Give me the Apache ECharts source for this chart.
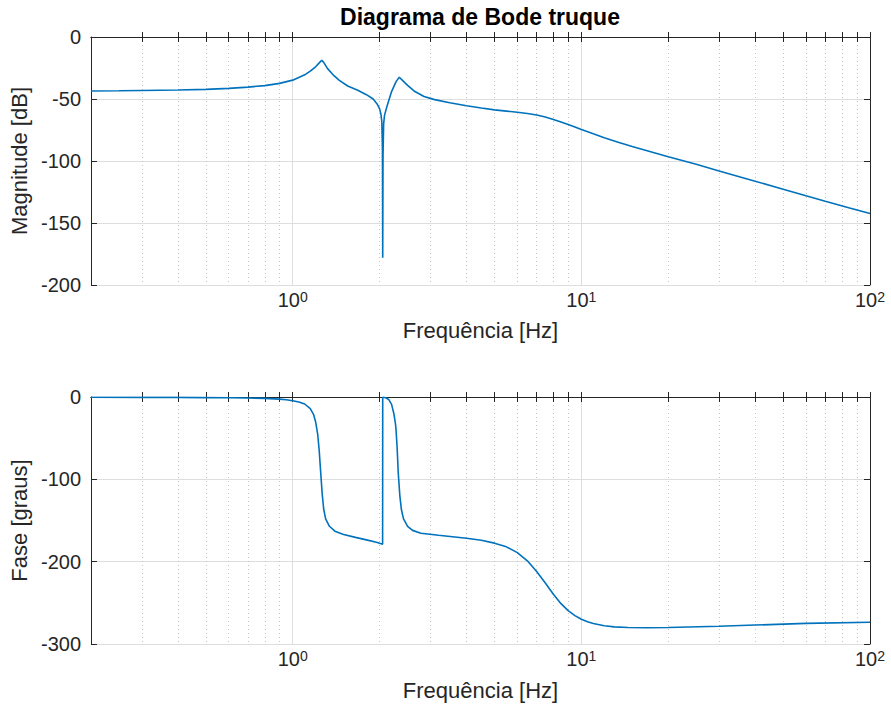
<!DOCTYPE html>
<html>
<head>
<meta charset="utf-8">
<title>Diagrama de Bode truque</title>
<script src="https://cdn.jsdelivr.net/npm/echarts@6/dist/echarts.min.js"></script>
<style>
  html, body { margin: 0; padding: 0; background: #fff; }
  #chart { width: 891px; height: 720px; }
</style>
</head>
<body>
<div id="chart"></div>
<script>
// frequencia [Hz] e magnitude [dB]
const freqMag = [0.2, 0.25, 0.3, 0.4, 0.5, 0.6, 0.7, 0.8, 0.9, 1.0, 1.1, 1.15, 1.2, 1.24, 1.26, 1.28, 1.32, 1.38, 1.45, 1.55, 1.68, 1.8, 1.9, 1.96, 2.0, 2.02, 2.035, 2.045, 2.05, 2.055, 2.065, 2.08, 2.12, 2.2, 2.28, 2.34, 2.4, 2.5, 2.65, 2.85, 3.1, 3.5, 4.0, 4.5, 5.0, 5.5, 6.0, 6.5, 7.0, 7.5, 8.0, 8.5, 9.0, 9.5, 10, 11, 12, 13.5, 15, 17.5, 20, 25, 30, 40, 50, 60, 70, 85, 100];
const magDb = [-43.5, -43.4, -43.2, -42.8, -42.2, -41.4, -40.4, -39.2, -37.4, -34.8, -30.5, -27.5, -24, -20.5, -18.8, -20.5, -25.5, -30.5, -35, -39.5, -43, -46.5, -50, -54, -58, -62, -68, -90, -178, -95, -70, -63, -56, -44, -36, -32.5, -35, -39, -44, -48, -50.5, -53, -55.5, -57.3, -58.8, -59.8, -60.7, -61.7, -62.9, -64.5, -66.5, -68.6, -70.6, -72.5, -74.5, -78.1, -81.2, -85, -88.3, -92.7, -96.5, -102.7, -108, -116.3, -122.8, -128.1, -132.5, -137.9, -142.3];

// frequencia [Hz] e fase [graus]
const freqPhase = [0.2, 0.3, 0.4, 0.5, 0.6, 0.7, 0.8, 0.9, 0.95, 1.0, 1.05, 1.1, 1.15, 1.18, 1.2, 1.22, 1.235, 1.25, 1.265, 1.28, 1.3, 1.34, 1.4, 1.5, 1.65, 1.8, 1.95, 2.048, 2.05, 2.1, 2.15, 2.2, 2.24, 2.27, 2.28, 2.3, 2.32, 2.35, 2.38, 2.42, 2.5, 2.6, 2.78, 3.2, 4.0, 4.5, 5.0, 5.5, 6.0, 6.5, 7.0, 7.5, 8.0, 8.5, 9.0, 9.5, 10, 10.5, 11, 12, 13, 14.5, 17, 20, 30, 40, 60, 100];
const phaseDeg = [-0.3, -0.4, -0.5, -0.7, -0.9, -1.2, -1.7, -2.6, -3.3, -4.5, -6, -8.5, -14, -21, -30, -45, -65, -92, -118, -136, -148, -157, -163, -167, -170.5, -173.5, -176.5, -178.8, -0.3, -1, -3, -9, -20, -33, -40, -62, -92, -120, -137, -148, -157, -162, -165.5, -168, -171.5, -174, -177.5, -182, -189, -199, -212, -226, -239.5, -251, -259.5, -265.5, -270, -273, -275.2, -277.8, -279.2, -280, -280.3, -280, -278.5, -277, -275, -273.5];

// eixos
const xRange = [0.2, 100];
const majorTicks = [1, 10, 100];
const minorTicks = [0.3, 0.4, 0.5, 0.6, 0.7, 0.8, 0.9, 2, 3, 4, 5, 6, 7, 8, 9, 20, 30, 40, 50, 60, 70, 80, 90];
const magRange = [-200, 0];
const magStep = 50;
const phaseRange = [-300, 0];
const phaseStep = 100;

const FONT = '"Liberation Sans", Arial, sans-serif';
const AXIS_COLOR = '#262626';
const LINE_COLOR = '#0072BD';

const chart = echarts.init(document.getElementById('chart'), null, { renderer: 'svg' });

const grids = [
  { left: 91, top: 37, width: 779, height: 248 },
  { left: 91, top: 397, width: 779, height: 247 }
];

function xAxesFor(g, nameGap) {
  const base = { type: 'log', logBase: 10, min: xRange[0], max: xRange[1], gridIndex: g };
  const allTicks = majorTicks.concat(minorTicks);
  const border = { show: true, lineStyle: { color: AXIS_COLOR, width: 1 } };
  return [
    Object.assign({}, base, {
      position: 'bottom',
      axisLine: border,
      axisTick: { show: true, inside: true, length: 5, customValues: allTicks, lineStyle: { color: AXIS_COLOR } },
      axisLabel: {
        show: true,
        margin: 5,
        customValues: majorTicks,
        formatter: function (v) {
          return '{b|10}{s|' + Math.round(Math.log10(v)) + '}';
        },
        rich: {
          b: { fontFamily: FONT, fontSize: 20, lineHeight: 20, color: AXIS_COLOR, padding: [14, 0, 0, 0], verticalAlign: 'bottom' },
          s: { fontFamily: FONT, fontSize: 14, lineHeight: 14, color: AXIS_COLOR, verticalAlign: 'top' }
        }
      },
      splitLine: { show: false },
      name: 'Frequência [Hz]',
      nameLocation: 'middle',
      nameGap: nameGap,
      nameTextStyle: { fontFamily: FONT, fontSize: 22, color: AXIS_COLOR }
    }),
    Object.assign({}, base, {
      position: 'top',
      axisLine: border,
      axisTick: { show: true, inside: true, length: 5, customValues: allTicks, lineStyle: { color: AXIS_COLOR } },
      axisLabel: { show: false },
      splitLine: { show: false }
    }),
    Object.assign({}, base, {
      position: 'bottom',
      axisLine: { show: false },
      axisTick: { show: false, customValues: majorTicks },
      axisLabel: { show: false },
      splitLine: { show: true, lineStyle: { color: '#dedede', width: 1 } }
    }),
    Object.assign({}, base, {
      position: 'bottom',
      axisLine: { show: false },
      axisTick: { show: false, customValues: minorTicks },
      axisLabel: { show: false },
      splitLine: { show: true, lineStyle: { color: '#c4c4c4', width: 1, type: [1, 3] } }
    })
  ];
}

function yAxesFor(g, range, step, name) {
  const base = { type: 'value', gridIndex: g, min: range[0], max: range[1], interval: step };
  const border = { show: true, lineStyle: { color: AXIS_COLOR, width: 1 } };
  return [
    Object.assign({}, base, {
      position: 'left',
      axisLine: border,
      axisTick: { show: true, inside: true, length: 6, lineStyle: { color: AXIS_COLOR } },
      axisLabel: { show: true, margin: 10, fontFamily: FONT, fontSize: 20, color: AXIS_COLOR },
      splitLine: { show: true, lineStyle: { color: '#dedede', width: 1 } },
      name: name,
      nameLocation: 'middle',
      nameGap: 56,
      nameTextStyle: { fontFamily: FONT, fontSize: 22, color: AXIS_COLOR }
    }),
    Object.assign({}, base, {
      position: 'right',
      axisLine: border,
      axisTick: { show: true, inside: true, length: 6, lineStyle: { color: AXIS_COLOR } },
      axisLabel: { show: false },
      splitLine: { show: false }
    })
  ];
}

const option = {
  animation: false,
  backgroundColor: '#fff',
  grid: grids,
  graphic: [{
    type: 'text',
    x: 480,
    y: 17,
    style: {
      text: 'Diagrama de Bode truque',
      font: 'bold 23px ' + FONT,
      fill: '#000',
      align: 'center',
      verticalAlign: 'middle',
      textAlign: 'center',
      textVerticalAlign: 'middle'
    }
  }],
  xAxis: xAxesFor(0, 34).concat(xAxesFor(1, 35)),
  yAxis: yAxesFor(0, magRange, magStep, 'Magnitude [dB]').concat(yAxesFor(1, phaseRange, phaseStep, 'Fase [graus]')),
  series: [
    {
      type: 'line',
      xAxisIndex: 0,
      yAxisIndex: 0,
      showSymbol: false,
      z: 5,
      lineStyle: { color: LINE_COLOR, width: 1.6 },
      data: freqMag.map(function (f, i) { return [f, magDb[i]]; })
    },
    {
      type: 'line',
      xAxisIndex: 4,
      yAxisIndex: 2,
      showSymbol: false,
      z: 5,
      lineStyle: { color: LINE_COLOR, width: 1.6 },
      data: freqPhase.map(function (f, i) { return [f, phaseDeg[i]]; })
    }
  ]
};

chart.setOption(option);
</script>
</body>
</html>
